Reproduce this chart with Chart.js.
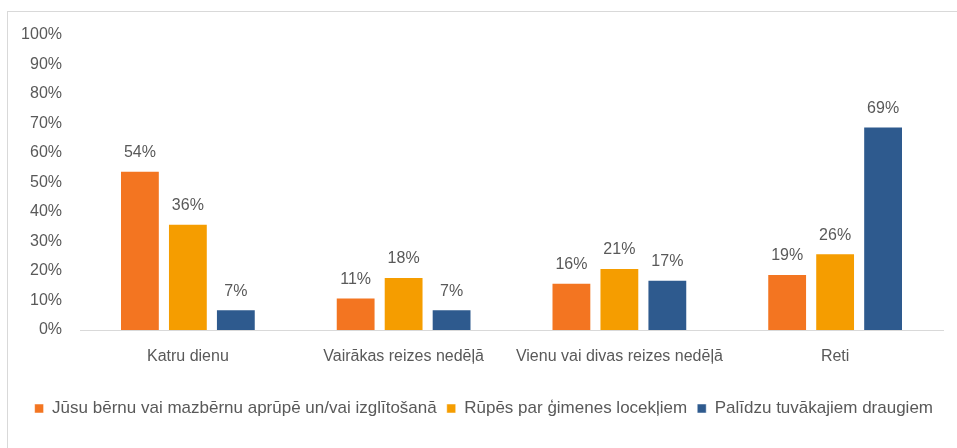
<!DOCTYPE html>
<html>
<head>
<meta charset="utf-8">
<script src="https://cdn.jsdelivr.net/npm/chart.js@4.4.1/dist/chart.umd.min.js"></script>
<style>
  body { margin: 0; background: #fff; }
  #frame { position: absolute; left: 7px; top: 11px; width: 1000px; height: 500px; border: 1px solid #d9d9d9; }
  #chart { position: absolute; left: 0; top: 0; }
</style>
</head>
<body>
<div id="frame"></div>
<canvas id="chart" width="957" height="448"></canvas>
<script>
const categories = ["Katru dienu", "Vairākas reizes nedēļā", "Vienu vai divas reizes nedēļā", "Reti"];
const seriesNames = [
  "Jūsu bērnu vai mazbērnu aprūpē un/vai izglītošanā",
  "Rūpēs par ģimenes locekļiem",
  "Palīdzu tuvākajiem draugiem",
];
const childCare = [54, 11, 16, 19];
const family = [36, 18, 21, 26];
const friends = [7, 7, 17, 69];
const colors = ["#F37521", "#F59D00", "#2E5A8E"];

const FONT = "'Liberation Sans', Arial, sans-serif";
const TEXT = "#595959";

// draws the value above each bar
const valueLabels = {
  id: "valueLabels",
  afterDatasetsDraw(chart) {
    const ctx = chart.ctx;
    ctx.save();
    ctx.font = "16px " + FONT;
    ctx.fillStyle = TEXT;
    ctx.textAlign = "center";
    ctx.textBaseline = "bottom";
    chart.data.datasets.forEach((ds, i) => {
      chart.getDatasetMeta(i).data.forEach((bar, j) => {
        ctx.fillText(ds.data[j] + "%", bar.x, bar.y - 10);
      });
    });
    ctx.restore();
  },
};

new Chart(document.getElementById("chart"), {
  type: "bar",
  data: {
    labels: categories,
    datasets: [childCare, family, friends].map((d, i) => ({
      label: seriesNames[i],
      data: d,
      backgroundColor: colors[i],
      borderColor: "rgba(255,255,255,0.5)",
      borderWidth: 1,
      categoryPercentage: 0.667,
      barPercentage: 0.83,
    })),
  },
  options: {
    responsive: false,
    animation: false,
    layout: { padding: { top: 35, left: 0, right: 14, bottom: 21 } },
    plugins: {
      legend: {
        position: "bottom",
        align: "end",
        labels: {
          font: { family: FONT, size: 17 },
          color: TEXT,
          boxWidth: 9,
          boxHeight: 9,
          padding: 10,
        },
      },
      tooltip: { enabled: false },
    },
    scales: {
      y: {
        min: 0,
        max: 100,
        ticks: {
          stepSize: 10,
          padding: 18,
          color: TEXT,
          font: { family: FONT, size: 16 },
          callback: (v) => v + "%",
        },
        grid: { display: false, drawTicks: false },
        border: { display: false },
        afterFit: (s) => { s.width = 80; },
      },
      x: {
        ticks: {
          padding: 17,
          color: TEXT,
          font: { family: FONT, size: 16 },
          maxRotation: 0,
        },
        grid: { display: false, drawTicks: false },
        border: { display: true, color: "#d9d9d9", width: 1 },
        afterFit: (s) => { s.height = 60; },
      },
    },
  },
  plugins: [valueLabels],
});
</script>
</body>
</html>
